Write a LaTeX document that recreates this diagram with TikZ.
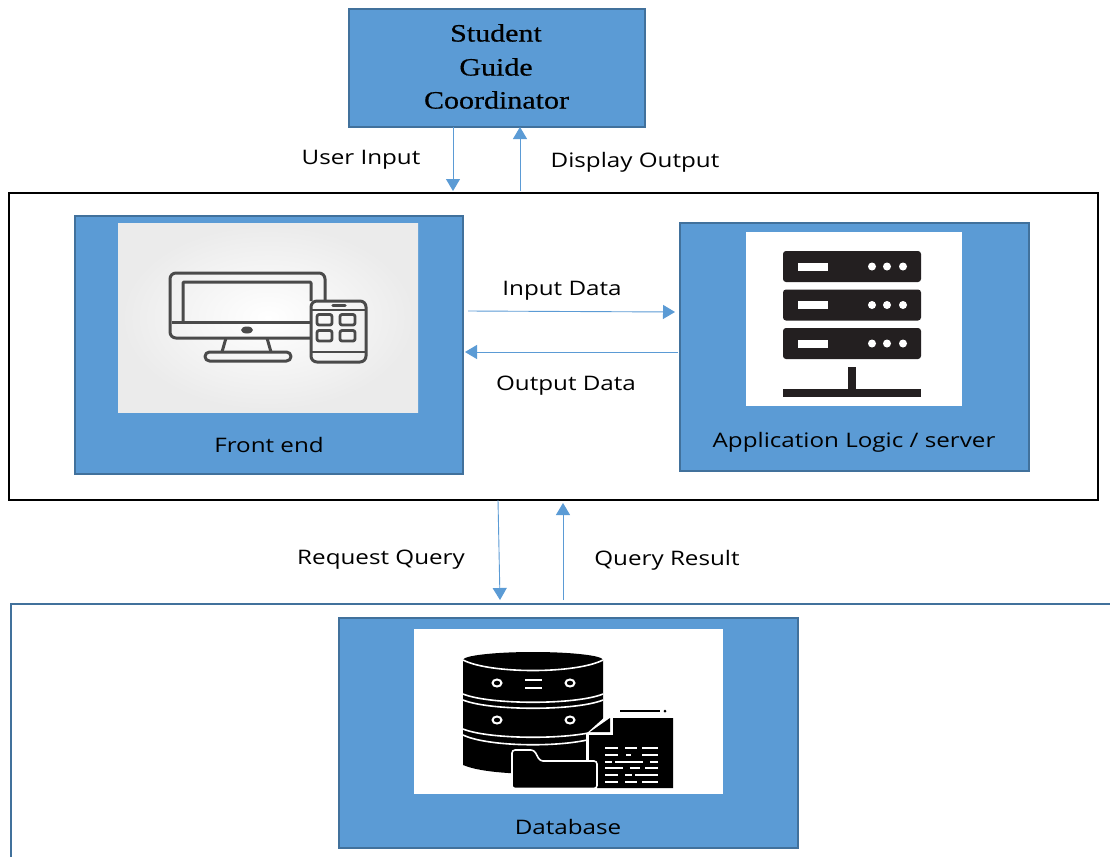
\documentclass[tikz,border=0pt]{standalone}
\usepackage{fontspec}
\setmainfont[FakeStretch=1.21]{Open Sans}
\newfontfamily\serifstretch[FakeStretch=1.2,FakeBold=0.5]{Liberation Serif}
\usetikzlibrary{arrows.meta}
\definecolor{boxblue}{HTML}{5B9BD5}
\definecolor{boxedge}{HTML}{41719C}
\definecolor{icongrey}{HTML}{4A4A4A}
\definecolor{icondark}{HTML}{231F20}
\tikzset{
  box/.style={draw=boxedge,line width=1.3pt,fill=boxblue,inner sep=0pt,outer sep=0pt},
  frame/.style={draw=black,line width=1.8pt,inner sep=0pt,outer sep=0pt},
  picbox/.style={fill=white,inner sep=0pt,outer sep=0pt},
  flow/.style={draw=boxblue,line width=0.9pt,-{Triangle[length=12pt,width=14pt]}},
  lab/.style={font=\fontsize{20}{24}\selectfont,text=black,inner sep=0pt},
  titlelab/.style={font=\serifstretch\fontsize{25}{25}\selectfont,text=black,inner sep=0pt},
  monline/.style={draw=icongrey,line width=3pt,line join=round},
  dbwhite/.style={draw=white,line width=1.6pt},
  srvdark/.style={fill=icondark,rounded corners=3pt},
}
\begin{document}
\begin{tikzpicture}[x=1pt,y=-1pt]
\useasboundingbox (0,0) rectangle (1110,857);
\fill[white] (0,0) rectangle (1110,857);

% boxes
\node[box,minimum width=296pt,minimum height=118pt] (student) at (497,68) {};
\node[frame,minimum width=1089pt,minimum height=307pt] (system) at (553.5,346.5) {};
\node[box,minimum width=388pt,minimum height=258pt] (front) at (269,345) {};
\node[box,minimum width=349pt,minimum height=248pt] (server) at (854.5,347) {};
\node[box,minimum width=459pt,minimum height=230pt] (dbbox) at (568.5,733) {};
\coordinate (dbtr) at (1110,604);
\coordinate (dbtl) at (11,604);
\coordinate (dbbl) at (11,857);
\draw[draw=boxedge,line width=1.3pt] (dbtr) -- (dbtl) -- (dbbl);

% picture panels
\shade[inner color=white,outer color=black!8] (118,223) rectangle (418,412);
\node[picbox,minimum width=216pt,minimum height=174pt] (serverimg) at (854,319) {};
\node[picbox,minimum width=309pt,minimum height=165pt] (dbimg) at (568.5,711.5) {};

% monitor + phone icon
\draw[monline,rounded corners=6pt] (311,338) -- (170,338) -- (170,273) -- (325,273) -- (325,301);
\draw[monline,rounded corners=1pt] (183,322) -- (183,282) -- (311,282) -- (311,301);
\draw[icongrey,line width=3pt] (171.5,322) -- (311,322);
\fill[icongrey] (247,330) ellipse (6pt and 3.5pt);
\draw[icongrey,line width=3pt] (226,338) -- (222,352) (267,338) -- (271,352);
\draw[monline,rounded corners=4.5pt] (205,352) rectangle (291,361);
\draw[monline,rounded corners=6pt] (311,301) rectangle (366,362);
\draw[icongrey,line width=2.5pt] (311,310) -- (366,310) (311,352) -- (366,352);
\draw[icongrey,line width=3.5pt,line cap=round] (333,305.5) -- (345,305.5);
\foreach \px/\py in {320/318,343/318,320/334,343/334}{
  \draw[monline,line width=2.8pt,rounded corners=2pt] (\px-3,\py-3.5) rectangle (\px+12,\py+7);
}

% server icon
\foreach \ry in {251,289.5,328}{
  \fill[srvdark] (783,\ry) rectangle (921,\ry+31);
  \fill[white] (798,\ry+11.5) rectangle (828,\ry+19.5);
  \foreach \dx in {872,887,903}{\fill[white] (\dx,\ry+15.5) circle (4pt);}
}
\fill[icondark] (848,367) rectangle (856,390);
\fill[icondark] (783,389) rectangle (921,397);

% database icon
\fill[black] (463,660) arc[start angle=180,end angle=0,x radius=70pt,y radius=8pt]
  -- (603,733) -- (585,770) -- (530,774) .. controls (495,773) and (475,770) .. (463,765) -- cycle;
\draw[dbwhite] (463,660) .. controls (490,674) and (576,674) .. (603,660);
\draw[dbwhite] (463,694) .. controls (490,705) and (576,705) .. (603,694);
\draw[dbwhite] (463,700) .. controls (490,711) and (576,711) .. (603,700);
\draw[dbwhite] (463,729) .. controls (490,740) and (576,740) .. (603,729);
\draw[dbwhite] (463,735) .. controls (490,748) and (576,748) .. (603,735);
\foreach \cx/\cy in {497/683,570/683,497/720,570/720}{
  \draw[white,line width=2pt] (\cx,\cy) ellipse (4.5pt and 3.5pt);
}
\draw[white,line width=1.5pt] (525,680) -- (542,680) (525,688) -- (542,688);
\fill[white] (586,734) -- (606,716) -- (676,716) -- (676,790) -- (586,790) -- cycle;
\fill[black] (613,718) -- (673,718) -- (673,788) -- (597,788) -- (597,765) -- (589,765) -- (589,735) -- (613,735) -- cycle;
\fill[black] (590,732) -- (610,718) -- (610,732) -- cycle;
\draw[black,line width=2pt] (620,711) -- (660,711);
\fill[black] (665,711) circle (1.5pt);
\foreach \ly/\xa/\xb/\xc/\xd/\xe in {748/618/625/637/642/658,755/618/626/631/642/658,762/612/615/643/650/658,768/623/630/640/645/658,775/618/625/632/635/658,782/618/625/637/642/658}{
  \draw[white,line width=1.3pt] (605,\ly) -- (\xa,\ly) (\xb,\ly) -- (\xc,\ly) (\xd,\ly) -- (\xe,\ly);
}
\fill[black,draw=white,line width=1.6pt,rounded corners=3pt] (512,788.5) -- (512,750) -- (534,750) -- (540,761) -- (597,761) -- (597,788.5) -- cycle;

% labels in boxes
\node[titlelab] (tstudent) at (496,33) {Student};
\node[titlelab] (tguide) at (496,67) {Guide};
\node[titlelab] (tcoord) at (496.5,100) {Coordinator};
\node[lab] (tfront) at (269,445) {Front end};
\node[lab] (tserver) at (854,442) {Application Logic / server};
\node[lab] (tdb) at (568,827) {Database};

% connector ends
\coordinate (uia) at (student.south -| 453,0);
\coordinate (uib) at (453,191);
\coordinate (doa) at (520,191);
\coordinate (dob) at (student.south -| 520,0);
\coordinate (ida) at (468,311);
\coordinate (idb) at (675,312);
\coordinate (oda) at (678,352);
\coordinate (odb) at (465,352);
\coordinate (rqa) at (498,500);
\coordinate (rqb) at (500,600);
\coordinate (qra) at (563,600);
\coordinate (qrb) at (563,503);

\draw[flow] (uia) -- (uib);
\draw[flow] (doa) -- (dob);
\draw[flow] (ida) -- (idb);
\draw[flow] (oda) -- (odb);
\draw[flow] (rqa) -- (rqb);
\draw[flow] (qra) -- (qrb);

% connector labels
\node[lab] (luser) at (361,160) {User Input};
\node[lab] (ldisp) at (635,162) {Display Output};
\node[lab] (linput) at (562,291) {Input Data};
\node[lab] (loutput) at (566,386) {Output Data};
\node[lab] (lreq) at (381,560) {Request Query};
\node[lab] (lres) at (667,560) {Query Result};
\end{tikzpicture}
\end{document}
